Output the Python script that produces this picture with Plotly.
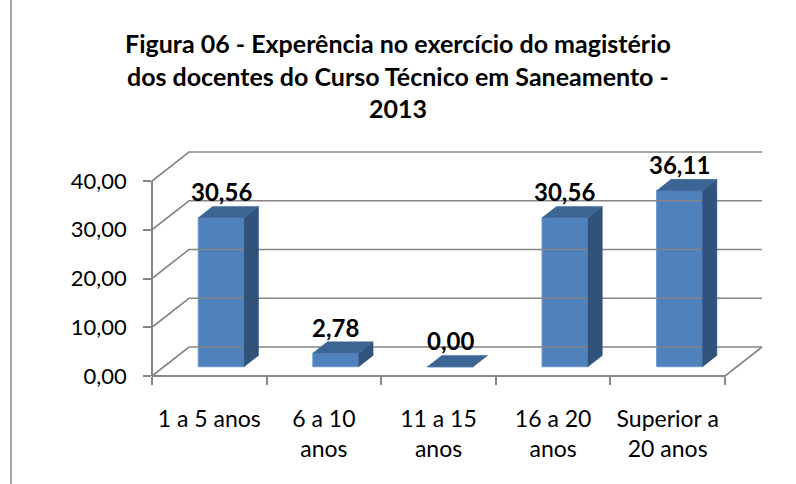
import plotly.graph_objects as go

# ---- data ----
categories = ["1 a 5 anos", "6 a 10<br>anos", "11 a 15<br>anos", "16 a 20<br>anos", "Superior a<br>20 anos"]
values = [30.56, 2.78, 0.00, 30.56, 36.11]
y_ticks = [0, 10, 20, 30, 40]
title_text = ("<b>Figura 06 - Experência no exercício do magistério<br>"
              "dos docentes do Curso Técnico em Saneamento -<br>2013</b>")

# ---- layout geometry (pixels) ----
W, H = 796, 484
AX_LEFT, AX_RIGHT = 152, 725      # front floor edge
ZERO_PX, TOP_PX = 376, 181        # front value axis 0 and 40
PX_CAT = (AX_RIGHT - AX_LEFT) / len(categories)
PX_VAL = (ZERO_PX - TOP_PX) / 40.0
DEPTH_PX = (37, 29)               # projection of full depth (right, up)
D0, D1 = 0.32, 0.71               # bar depth span (fraction)
BAR_W = 0.40

# main hidden axes map the whole figure; x in category units, y in value units
xr = [-0.5 - AX_LEFT / PX_CAT, -0.5 + (W - AX_LEFT) / PX_CAT]
yr = [(ZERO_PX - H) / PX_VAL, ZERO_PX / PX_VAL]
DX = DEPTH_PX[0] / PX_CAT
DY = DEPTH_PX[1] / PX_VAL

GRID = "#868686"
FRONT = "#4F81BD"
TOP = "#3D6594"
SIDE = "#31527A"
FONT = "Lato"

fig = go.Figure()

# walls: gridlines (left wall diagonal + back wall horizontal)
n = len(categories)
for v in y_ticks:
    fig.add_trace(go.Scatter(
        x=[-0.5, -0.5 + DX, n - 0.5 + DX], y=[v, v + DY, v + DY],
        mode="lines", line=dict(color=GRID, width=1.6),
        hoverinfo="skip", showlegend=False))
# floor right edge
fig.add_trace(go.Scatter(
    x=[n - 0.5, n - 0.5 + DX], y=[0, DY], mode="lines",
    line=dict(color=GRID, width=1.6), hoverinfo="skip", showlegend=False))

# bars
xs = [i + D0 * DX for i in range(n)]
base = D0 * DY
ddx = (D1 - D0) * DX
ddy = (D1 - D0) * DY
hw = BAR_W / 2
for x, v in zip(xs, values):
    top = base + v
    if v > 0:
        fig.add_trace(go.Scatter(
            x=[x + hw, x + hw, x + hw + ddx, x + hw + ddx, x + hw],
            y=[base, top, top + ddy, base + ddy, base],
            fill="toself", fillcolor=SIDE, mode="lines",
            line=dict(color=SIDE, width=0.5), hoverinfo="skip", showlegend=False))
    fig.add_trace(go.Scatter(
        x=[x - hw, x + hw, x + hw + ddx, x - hw + ddx, x - hw],
        y=[top, top, top + ddy, top + ddy, top],
        fill="toself", fillcolor=TOP, mode="lines",
        line=dict(color=TOP, width=0.5), hoverinfo="skip", showlegend=False))

fig.add_trace(go.Bar(
    x=xs, y=values, base=[base] * n, width=BAR_W,
    marker=dict(color=FRONT, line=dict(color="#6A98CF", width=1)),
    showlegend=False, hoverinfo="skip"))

# data labels
for x, v in zip(xs, values):
    fig.add_annotation(
        x=x, y=base + v, xref="x", yref="y", yshift=26,
        text="<b>" + f"{v:.2f}".replace(".", ",") + "</b>",
        showarrow=False, font=dict(family=FONT, size=24, color="black"))

# title
fig.add_annotation(
    x=0.5, y=1, xref="paper", yref="paper", xanchor="center", yanchor="top",
    yshift=-26, text=title_text, showarrow=False, align="center",
    font=dict(family=FONT, size=25, color="black"))

# visible front axes
fig.add_trace(go.Scatter(x=categories, y=[None] * n, xaxis="x2", yaxis="y2",
                         mode="markers", showlegend=False, hoverinfo="skip"))

fig.update_layout(
    width=W, height=H,
    margin=dict(l=0, r=0, t=0, b=0, autoexpand=False),
    paper_bgcolor="white", plot_bgcolor="rgba(0,0,0,0)",
    separators=",.",
    barmode="overlay",
    xaxis=dict(range=xr, domain=[0, 1], visible=False, fixedrange=True),
    yaxis=dict(range=yr, domain=[0, 1], visible=False, fixedrange=True),
    xaxis2=dict(type="category", domain=[AX_LEFT / W, AX_RIGHT / W],
                range=[-0.5, n - 0.5], anchor="free", position=(H - ZERO_PX) / H,
                showline=True, linecolor=GRID, linewidth=1.6, automargin=False,
                ticks="outside", tickson="boundaries", ticklen=8, tickcolor=GRID,
                tickwidth=1.6, showgrid=False, ticklabelstandoff=23, tickangle=0,
                tickfont=dict(family=FONT, size=23, color="black")),
    yaxis2=dict(domain=[(H - ZERO_PX) / H, (H - TOP_PX) / H], range=[0, 40],
                anchor="free", position=AX_LEFT / W, tickvals=y_ticks,
                tickformat=".2f", showline=True, linecolor=GRID, linewidth=1.6,
                automargin=False,
                ticks="outside", ticklen=8, tickcolor=GRID, tickwidth=1.6,
                showgrid=False, zeroline=False, ticklabelstandoff=12,
                tickfont=dict(family=FONT, size=22, color="black")),
    shapes=[dict(type="line", xref="paper", yref="paper", x0=11 / W, x1=11 / W,
                 y0=0, y1=1, line=dict(color=GRID, width=1.5))],
)

fig.write_html("out.html")
